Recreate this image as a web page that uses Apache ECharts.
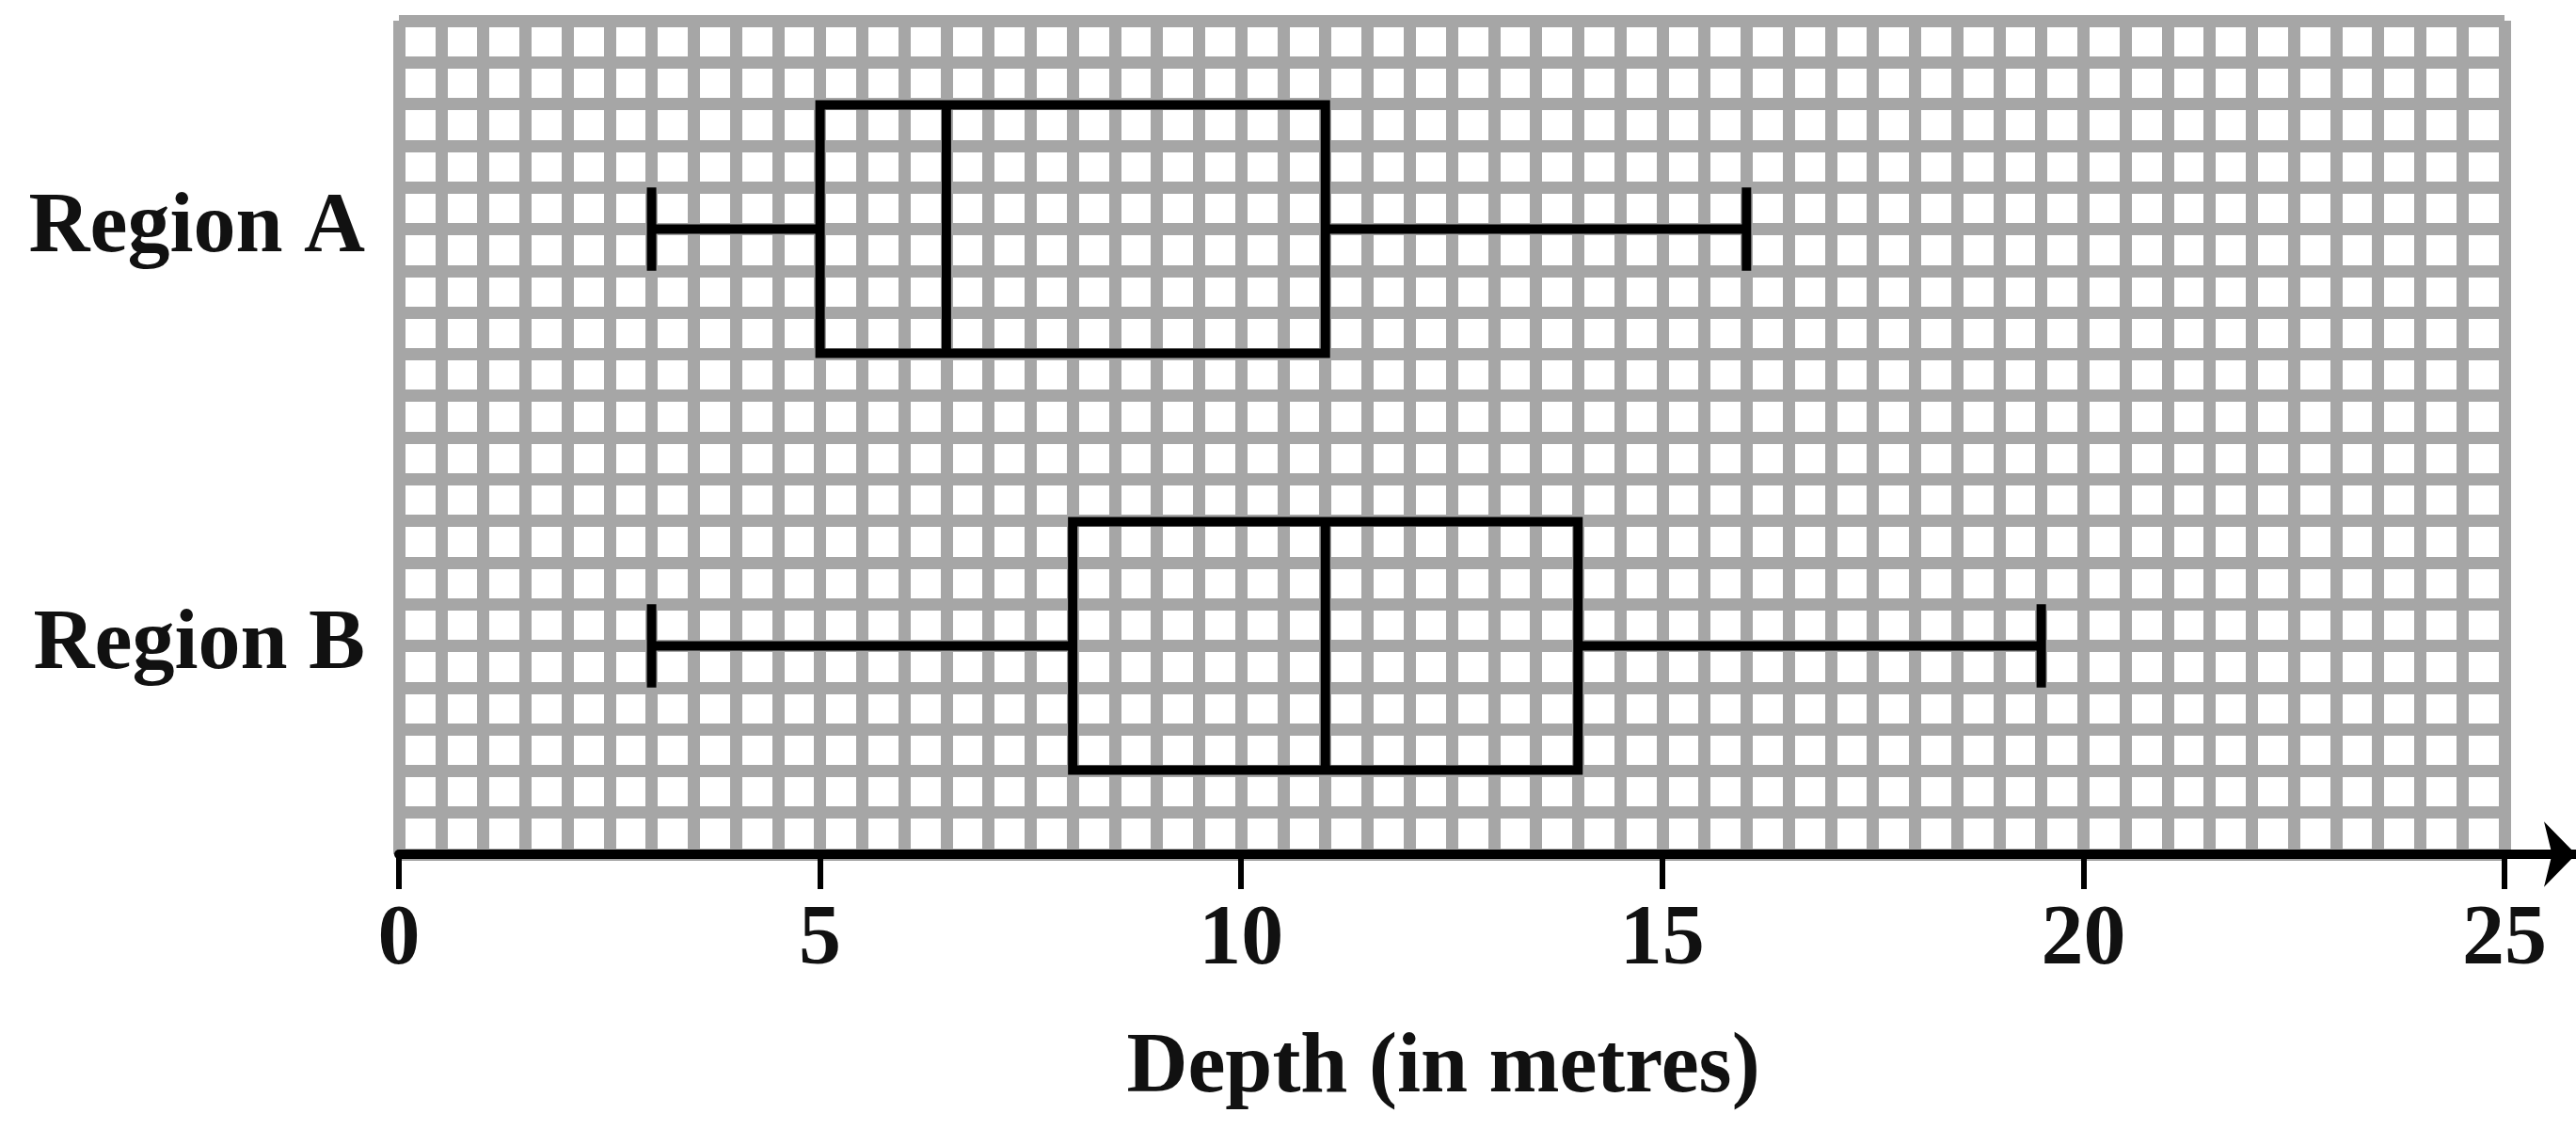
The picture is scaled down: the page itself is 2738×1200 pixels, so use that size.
<!DOCTYPE html>
<html>
<head>
<meta charset="utf-8">
<script src="https://cdn.jsdelivr.net/npm/echarts@6/dist/echarts.min.js"></script>
<style>
html, body { margin: 0; padding: 0; background: #ffffff; }
#chart { width: 2738px; height: 1200px; }
</style>
</head>
<body>
<div id="chart"></div>
<script>
// ---- data ----
const categories = ['Region A', 'Region B'];
const minValues = [3, 3];
const q1Values = [5, 8];
const medianValues = [6.5, 11];
const q3Values = [11, 14];
const maxValues = [16, 19.5];
const xTickValues = [0, 5, 10, 15, 20, 25];
const xAxisTitle = 'Depth (in metres)';

const boxData = categories.map((c, i) => [i, minValues[i], q1Values[i], medianValues[i], q3Values[i], maxValues[i]]);

const FONT = '"Liberation Serif", "DejaVu Serif", serif';
const gridLine = { color: '#a6a6a6', width: 13 };

function renderBox(params, api) {
  const cat = api.value(0);
  const vMin = api.value(1), vQ1 = api.value(2), vMed = api.value(3), vQ3 = api.value(4), vMax = api.value(5);
  const band = api.size([0, 1])[1];
  const halfBox = band * 0.298;
  const halfCap = band * 0.1;
  const pMin = api.coord([vMin, cat]);
  const pQ1 = api.coord([vQ1, cat]);
  const pMed = api.coord([vMed, cat]);
  const pQ3 = api.coord([vQ3, cat]);
  const pMax = api.coord([vMax, cat]);
  const y = pMed[1];
  const st = { stroke: '#000000', lineWidth: 10, fill: null, lineCap: 'butt' };
  return {
    type: 'group',
    children: [
      { type: 'line', shape: { x1: pMin[0], y1: y, x2: pQ1[0], y2: y }, style: st },
      { type: 'line', shape: { x1: pQ3[0], y1: y, x2: pMax[0], y2: y }, style: st },
      { type: 'line', shape: { x1: pMin[0], y1: y - halfCap, x2: pMin[0], y2: y + halfCap }, style: st },
      { type: 'line', shape: { x1: pMax[0], y1: y - halfCap, x2: pMax[0], y2: y + halfCap }, style: st },
      { type: 'rect', shape: { x: pQ1[0], y: y - halfBox, width: pQ3[0] - pQ1[0], height: halfBox * 2 }, style: st },
      { type: 'line', shape: { x1: pMed[0], y1: y - halfBox, x2: pMed[0], y2: y + halfBox }, style: st }
    ]
  };
}

const chart = echarts.init(document.getElementById('chart'), null, { renderer: 'canvas' });
chart.setOption({
  backgroundColor: '#ffffff',
  animation: false,
  grid: [
    { left: 424, right: 76, top: 22, bottom: 292, show: true, backgroundColor: '#ffffff', borderWidth: 0 },
    { left: 424, right: 0, top: 22, bottom: 292, show: false }
  ],
  xAxis: [
    {
      gridIndex: 0,
      type: 'value',
      min: xTickValues[0],
      max: xTickValues[xTickValues.length - 1],
      interval: 5,
      name: xAxisTitle,
      nameLocation: 'middle',
      nameGap: 184,
      nameTextStyle: { fontFamily: FONT, fontSize: 90, fontWeight: 'bold', color: '#111111', padding: [0, 18, 0, 0] },
      axisLine: { show: false },
      axisTick: { show: true, inside: false, length: 37, lineStyle: { color: '#000000', width: 6 } },
      axisLabel: { show: true, margin: 48, fontFamily: FONT, fontSize: 90, fontWeight: 'bold', color: '#111111' },
      splitLine: { show: true, lineStyle: gridLine },
      minorTick: { show: false, splitNumber: 10 },
      minorSplitLine: { show: true, lineStyle: gridLine }
    },
    {
      gridIndex: 1,
      type: 'value',
      min: 0,
      max: 1,
      axisLine: { show: true, symbol: ['none', 'arrow'], symbolSize: [52, 34], lineStyle: { color: '#000000', width: 10 } },
      axisTick: { show: false },
      axisLabel: { show: false },
      splitLine: { show: false }
    }
  ],
  yAxis: [
    {
      gridIndex: 0,
      type: 'category',
      data: categories,
      inverse: true,
      axisLine: { show: false },
      axisTick: { show: false },
      splitLine: { show: false },
      axisLabel: { margin: 36, fontFamily: FONT, fontSize: 90, fontWeight: 'bold', color: '#111111' }
    },
    {
      gridIndex: 0,
      type: 'value',
      min: 0,
      max: 20,
      interval: 1,
      position: 'right',
      axisLine: { show: false },
      axisTick: { show: false },
      axisLabel: { show: false },
      splitLine: { show: true, lineStyle: gridLine }
    },
    { gridIndex: 1, type: 'value', show: false }
  ],
  series: [
    {
      type: 'custom',
      xAxisIndex: 0,
      yAxisIndex: 0,
      renderItem: renderBox,
      encode: { x: [1, 2, 3, 4, 5], y: 0 },
      data: boxData,
      z: 10
    }
  ]
});
</script>
</body>
</html>
